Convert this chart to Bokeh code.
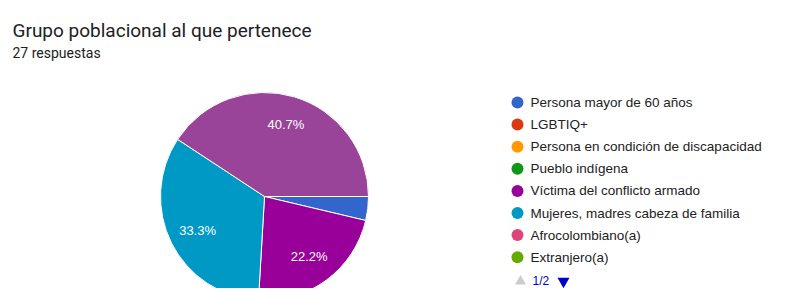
import math
from bokeh.plotting import figure
from bokeh.models import Range1d, ColumnDataSource
from bokeh.core.properties import value
from bokeh.embed import file_html
from bokeh.resources import INLINE

# ---- data ----
title = "Grupo poblacional al que pertenece"
subtitle = "27 respuestas"

legend_labels = [
    "Persona mayor de 60 años",
    "LGBTIQ+",
    "Persona en condición de discapacidad",
    "Pueblo indígena",
    "Víctima del conflicto armado",
    "Mujeres, madres cabeza de familia",
    "Afrocolombiano(a)",
    "Extranjero(a)",
]
legend_colors = ["#3366cc", "#dc3912", "#ff9900", "#109618",
                 "#990099", "#0099c6", "#dd4477", "#66aa00"]

# slices drawn (non-zero answers), in drawing order clockwise from 3 o'clock
slice_names = ["Persona mayor de 60 años", "Víctima del conflicto armado",
               "Mujeres, madres cabeza de familia", "Otro"]
slice_counts = [1, 6, 9, 11]
slice_colors = ["#3366cc", "#990099", "#0099c6", "#994499"]
page_text = "1/2"

# ---- layout (picture px) ----
W, H = 772, 288
CX, CY, R = 264, 196, 104
LABEL_K = 0.72
LEG_X, LEG_Y0, LEG_DY = 517, 102, 22.1

p = figure(width=W, height=H, x_range=Range1d(0, W), y_range=Range1d(-H, 0),
           output_backend="svg", toolbar_location=None, min_border=0,
           x_axis_type=None, y_axis_type=None)
p.grid.visible = False
p.outline_line_color = None
p.background_fill_color = "white"

total = sum(slice_counts)
starts, ends, mids = [], [], []
cum = 0
for c in slice_counts:
    a0 = -2 * math.pi * cum / total
    cum += c
    a1 = -2 * math.pi * cum / total
    starts.append(a0)
    ends.append(a1)
    mids.append((a0 + a1) / 2)

src = ColumnDataSource(dict(start=starts, end=ends, color=slice_colors))
p.wedge(x=CX, y=-CY, radius=R, start_angle="start", end_angle="end", direction="clock",
        fill_color="color", line_color="white", line_width=1, source=src)

lx, ly, lt = [], [], []
for c, m in zip(slice_counts, mids):
    if c / total >= 0.05:
        lx.append(CX + LABEL_K * R * math.cos(m))
        ly.append(-CY + LABEL_K * R * math.sin(m))
        lt.append(f"{100 * c / total:.1f}%")
p.text(x=lx, y=ly, text=lt, text_color="white", text_font=value("Liberation Sans"),
       text_font_size="13px", text_align="center", text_baseline="middle")

# title
p.text(x=[12], y=[-30], text=[title], text_color="#202124", text_font=value("Roboto"),
       text_font_size="19px", text_align="left", text_baseline="alphabetic")
p.text(x=[12], y=[-52], text=[subtitle], text_color="#202124", text_font=value("Roboto"),
       text_font_size="14px", text_align="left", text_baseline="alphabetic")

# legend
ys = [-(LEG_Y0 + i * LEG_DY) for i in range(len(legend_labels))]
p.scatter(x=[LEG_X] * len(ys), y=ys, size=12, marker="circle",
          fill_color=legend_colors, line_color=None)
p.text(x=[LEG_X + 13] * len(ys), y=ys, text=legend_labels, text_color="#222222",
       text_font=value("Liberation Sans"), text_font_size="13.5px",
       text_align="left", text_baseline="middle")

# pager (moved up slightly so it fits inside the figure)
py = -(LEG_Y0 + len(legend_labels) * LEG_DY + 2)
p.scatter(x=[LEG_X + 3], y=[py], marker="triangle", size=11, fill_color="#cccccc", line_color=None)
p.text(x=[LEG_X + 15], y=[py], text=[page_text], text_color="#0000cc",
       text_font=value("Liberation Sans"), text_font_size="12px",
       text_align="left", text_baseline="middle")
p.scatter(x=[LEG_X + 46], y=[py], marker="inverted_triangle", size=12, fill_color="#0000cc", line_color=None)

open("out.html", "w").write(file_html(p, INLINE))
